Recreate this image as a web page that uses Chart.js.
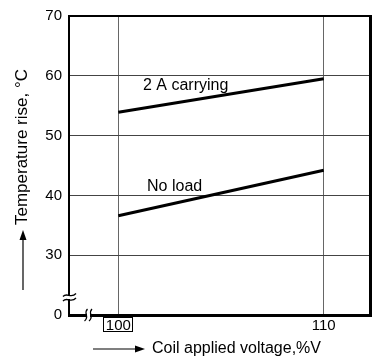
<!DOCTYPE html>
<html>
<head>
<meta charset="utf-8">
<script src="https://cdn.jsdelivr.net/npm/chart.js@4.4.0/dist/chart.umd.min.js"></script>
<style>
  html, body { margin: 0; padding: 0; background: #fff; }
  #wrap { width: 373px; height: 363px; position: relative; }
</style>
</head>
<body>
<div id="wrap"><canvas id="chart" width="373" height="363"></canvas></div>
<script>
// coil applied voltage (%V) and temperature rise (deg C)
var voltage = [100, 110];
var carrying2A = [53.9, 59.5];
var noLoad = [36.6, 44.2];

// axis ticks; the y axis is broken, so the bottom tick (20 on the scale) reads "0"
var xTicks = [100, 110];
var yTicks = [20, 30, 40, 50, 60, 70];
var yTickLabels = ["0", "30", "40", "50", "60", "70"];

var seriesNames = ["2 A carrying", "No load"];
var xTitle = "Coil applied voltage,%V";
var yTitle = "Temperature rise, \u00b0C";

var FONT = "'Liberation Sans', Arial, sans-serif";

function toPoints(xs, ys) {
  var pts = [];
  for (var i = 0; i < xs.length; i++) {
    pts.push({ x: xs[i], y: ys[i] });
  }
  return pts;
}

function arrowHead(ctx, x, y, dir) {
  // dir: "up" or "right"
  ctx.beginPath();
  if (dir === "up") {
    ctx.moveTo(x, y);
    ctx.lineTo(x - 3.5, y + 10);
    ctx.lineTo(x + 3.5, y + 10);
  } else {
    ctx.moveTo(x, y);
    ctx.lineTo(x - 10, y - 3.5);
    ctx.lineTo(x - 10, y + 3.5);
  }
  ctx.closePath();
  ctx.fill();
}

var decorations = {
  id: "decorations",
  afterDraw: function (chart) {
    var ctx = chart.ctx,
        area = chart.chartArea,
        xs = chart.scales.x,
        ys = chart.scales.y;

    ctx.save();

    // frame: top and right edges
    ctx.strokeStyle = "#000";
    ctx.lineWidth = 2;
    ctx.beginPath();
    ctx.moveTo(area.left, area.top);
    ctx.lineTo(area.right, area.top);
    ctx.stroke();
    ctx.lineWidth = 3;
    ctx.beginPath();
    ctx.moveTo(area.right - 0.5, area.top - 1);
    ctx.lineTo(area.right - 0.5, area.bottom + 1);
    ctx.stroke();

    // curve labels
    ctx.fillStyle = "#000";
    ctx.font = "16px " + FONT;
    ctx.textAlign = "left";
    ctx.textBaseline = "alphabetic";
    ctx.fillText(seriesNames[0], xs.getPixelForValue(101.2), ys.getPixelForValue(57.7));
    ctx.fillText(seriesNames[1], xs.getPixelForValue(101.4), ys.getPixelForValue(40.7));

    // box round the 100 tick
    var bx = xs.getPixelForValue(xTicks[0]);
    ctx.lineWidth = 1;
    ctx.strokeRect(Math.round(bx) - 14.5, area.bottom + 2.5, 29, 14);

    // axis breaks
    ctx.lineWidth = 1.3;
    var yb = area.bottom - 18;
    ctx.fillStyle = "#fff";
    ctx.fillRect(area.left - 3, yb - 1, 6, 3);
    ctx.beginPath();
    for (var k = 0; k < 2; k++) {
      var yy = yb - 2 + k * 4.5;
      ctx.moveTo(area.left - 6, yy + 1.5);
      ctx.bezierCurveTo(area.left - 2, yy - 3, area.left + 2, yy + 4, area.left + 7, yy - 1.5);
    }
    ctx.stroke();

    var xb = area.left + 19;
    ctx.fillRect(xb - 1, area.bottom - 3, 3, 6);
    ctx.beginPath();
    for (var m = 0; m < 2; m++) {
      var xx = xb - 2 + m * 4.5;
      ctx.moveTo(xx + 1.5, area.bottom - 6);
      ctx.bezierCurveTo(xx - 3, area.bottom - 2, xx + 4, area.bottom + 2, xx - 1.5, area.bottom + 6);
    }
    ctx.stroke();

    // axis titles with arrows
    ctx.fillStyle = "#000";
    ctx.strokeStyle = "#000";
    ctx.lineWidth = 1.2;
    ctx.beginPath();
    ctx.moveTo(23, 290);
    ctx.lineTo(23, 236);
    ctx.stroke();
    arrowHead(ctx, 23, 230, "up");

    ctx.beginPath();
    ctx.moveTo(93, 349);
    ctx.lineTo(137, 349);
    ctx.stroke();
    arrowHead(ctx, 145, 349, "right");

    ctx.font = "16px " + FONT;
    ctx.textAlign = "left";
    ctx.textBaseline = "middle";
    ctx.fillText(xTitle, 152, 349);

    ctx.save();
    ctx.translate(22, 147);
    ctx.rotate(-Math.PI / 2);
    ctx.font = "17px " + FONT;
    ctx.textAlign = "center";
    ctx.fillText(yTitle, 0, 0);
    ctx.restore();

    ctx.restore();
  }
};

var chart = new Chart(document.getElementById("chart"), {
  type: "line",
  data: {
    datasets: [
      {
        label: seriesNames[0],
        data: toPoints(voltage, carrying2A),
        borderColor: "#000",
        borderWidth: 3,
        pointRadius: 0,
        fill: false
      },
      {
        label: seriesNames[1],
        data: toPoints(voltage, noLoad),
        borderColor: "#000",
        borderWidth: 3,
        pointRadius: 0,
        fill: false
      }
    ]
  },
  options: {
    responsive: false,
    animation: false,
    layout: { padding: { top: 13, right: 2, left: 0, bottom: 0 } },
    plugins: {
      legend: { display: false },
      tooltip: { enabled: false }
    },
    scales: {
      x: {
        type: "linear",
        min: 97.6,
        max: 112.3,
        afterFit: function (scale) { scale.height = 48; },
        afterBuildTicks: function (scale) {
          scale.ticks = xTicks.map(function (v) { return { value: v }; });
        },
        grid: { color: "#666", lineWidth: 1, drawTicks: false },
        border: { color: "#000", width: 3 },
        ticks: {
          color: "#000",
          font: { family: FONT, size: 15 },
          padding: 2,
          maxRotation: 0,
          callback: function (v) { return String(v); }
        }
      },
      y: {
        type: "linear",
        min: 20,
        max: 70,
        afterFit: function (scale) { scale.width = 69; },
        afterBuildTicks: function (scale) {
          scale.ticks = yTicks.map(function (v) { return { value: v }; });
        },
        grid: { color: "#444", lineWidth: 1, drawTicks: false },
        border: { color: "#000", width: 2 },
        ticks: {
          color: "#000",
          font: { family: FONT, size: 15 },
          padding: 7,
          callback: function (v) {
            var i = yTicks.indexOf(v);
            return i >= 0 ? yTickLabels[i] : "";
          }
        }
      }
    }
  },
  plugins: [decorations]
});
</script>
</body>
</html>
